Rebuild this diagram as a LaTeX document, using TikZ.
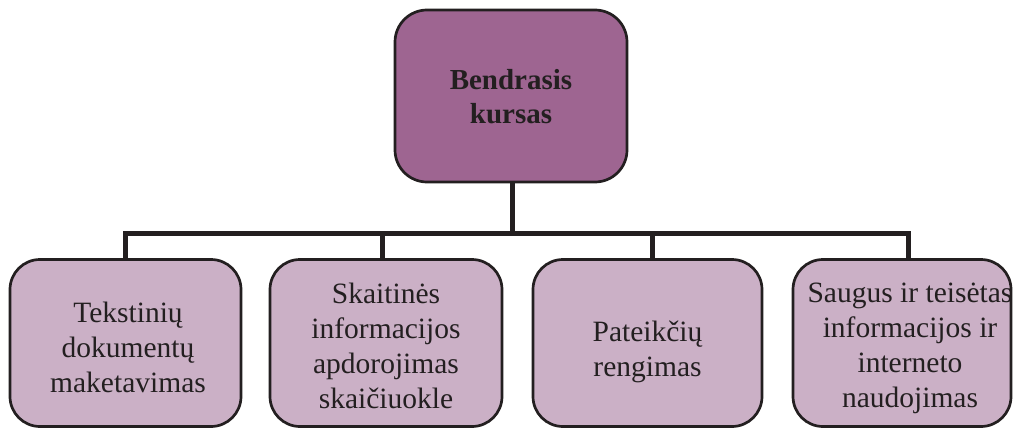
\documentclass[tikz,border=0pt]{standalone}
\usepackage{fontspec}
\setmainfont{Liberation Serif}
\usetikzlibrary{backgrounds}
\definecolor{topfill}{HTML}{9E6591}
\definecolor{subfill}{HTML}{CBB0C6}
\definecolor{ink}{HTML}{231F20}
\begin{document}
\begin{tikzpicture}[x=1pt,y=-1pt,
  topbox/.style={draw=ink,line width=2.7pt,fill=topfill,rounded corners=32pt,inner sep=0pt},
  subbox/.style={draw=ink,line width=2.7pt,fill=subfill,rounded corners=30pt,inner sep=0pt},
  toptext/.style={font=\fontsize{29}{34}\selectfont\bfseries,text=ink,align=center,inner sep=0pt,anchor=north},
  subtext/.style={font=\fontsize{29.5}{35}\selectfont,text=ink,align=center,inner sep=0pt,anchor=north},
  conn/.style={draw=ink,line width=5pt}]
\useasboundingbox (0,0) rectangle (1014,428);
% boxes
\node[topbox,minimum width=232pt,minimum height=172pt] (top) at (511,96) {};
\node[subbox,minimum width=231pt,minimum height=167pt] (b1) at (125.5,343) {};
\node[subbox,minimum width=232pt,minimum height=167pt] (b2) at (386,343) {};
\node[subbox,minimum width=229pt,minimum height=167pt] (b3) at (647.5,343) {};
\node[subbox,minimum width=218pt,minimum height=167pt] (b4) at (902,343) {};
% connectors
\begin{scope}[on background layer]
\draw[conn] (top.south -| 512,0) -- (512,233);
\draw[conn,line cap=rect] (b1.north -| 125,0) -- (125,233) -- (908,233) -- (b4.north -| 908,0);
\draw[conn] (b2.north -| 382,0) -- (382,233);
\draw[conn] (b3.north -| 652,0) -- (652,233);
\end{scope}
% texts
\node[toptext] (tt) at (511,69) {Bendrasis\\kursas};
\node[subtext] (t1) at (128,302) {Tekstinių\\dokumentų\\maketavimas};
\node[subtext] (t2) at (386,283) {Skaitinės\\informacijos\\apdorojimas\\skaičiuokle};
\node[subtext] (t3) at (647.5,321) {Pateikčių\\rengimas};
\node[subtext] (t4) at (910,283) {Saugus ir teisėtas\\informacijos ir\\interneto\\naudojimas};
\end{tikzpicture}
\end{document}
